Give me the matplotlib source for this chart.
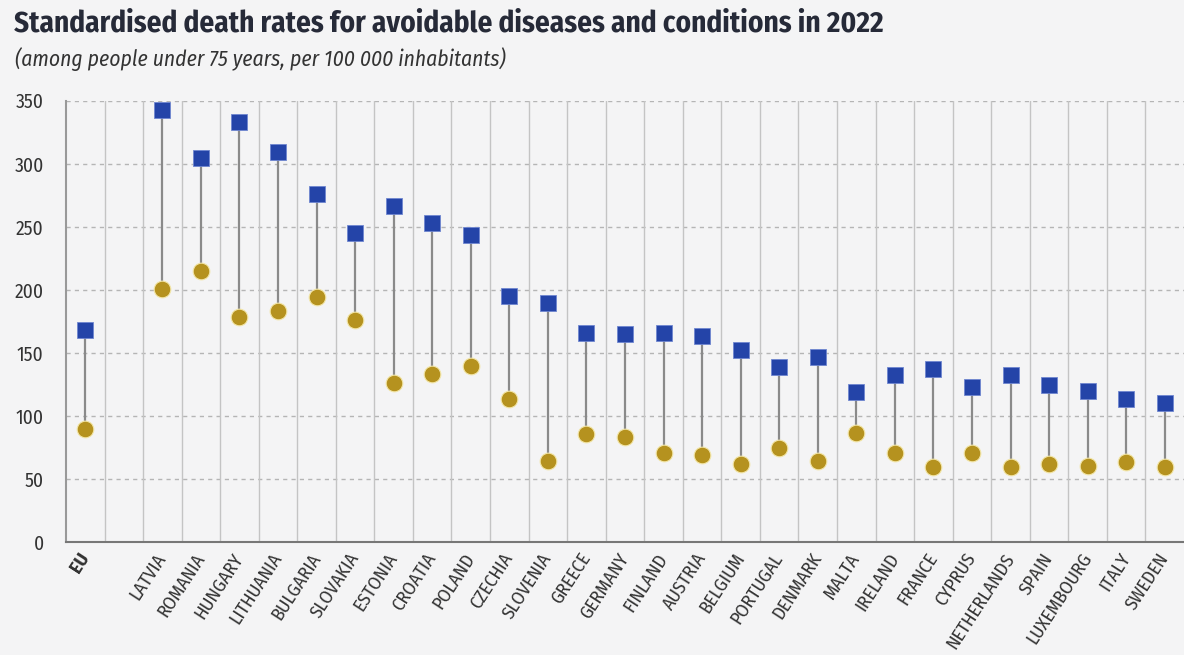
import numpy as np
import matplotlib.pyplot as plt

countries = ["EU", "", "LATVIA", "ROMANIA", "HUNGARY", "LITHUANIA", "BULGARIA",
             "SLOVAKIA", "ESTONIA", "CROATIA", "POLAND", "CZECHIA", "SLOVENIA",
             "GREECE", "GERMANY", "FINLAND", "AUSTRIA", "BELGIUM", "PORTUGAL",
             "DENMARK", "MALTA", "IRELAND", "FRANCE", "CYPRUS", "NETHERLANDS",
             "SPAIN", "LUXEMBOURG", "ITALY", "SWEDEN"]

# upper series (squares) and lower series (circles); None for the empty slot
squares = [168.3, None, 342.6, 304.3, 333.0, 309.0, 276.3, 245.0, 266.8, 253.0,
           243.8, 195.5, 189.4, 166.2, 165.4, 166.2, 163.5, 152.2, 139.0, 147.1,
           119.4, 132.6, 137.6, 123.1, 132.9, 124.4, 119.7, 113.3, 110.2]
circles = [89.8, None, 200.8, 215.0, 178.3, 183.6, 194.2, 176.2, 126.3, 133.7,
           140.0, 113.3, 64.2, 85.6, 83.5, 71.0, 69.2, 62.3, 74.7, 64.2,
           86.4, 70.8, 59.4, 71.0, 59.4, 62.3, 60.5, 63.6, 59.4]

y_ticks = [0, 50, 100, 150, 200, 250, 300, 350]

NARROW = ["Fira Sans Condensed", "DejaVu Sans"]
BG = "#f4f4f5"
BLUE = "#2444a8"
GOLD = "#b5921f"


def main():
    fig = plt.figure(figsize=(11.84, 6.55), dpi=100, facecolor=BG)
    ax = fig.add_axes([0.0557, 0.172, 0.9443, 0.6743], facecolor=BG)

    x = np.arange(len(countries))
    for xi, s, c in zip(x, squares, circles):
        if s is None:
            continue
        ax.plot([xi, xi], [c, s], color="#8a8a8a", lw=1.6, zorder=2)
    idx = [i for i, s in enumerate(squares) if s is not None]
    ax.plot(x[idx], [squares[i] for i in idx], "s", ms=11, color=BLUE,
            mec="#6f86d0", mew=0.6, zorder=3, linestyle="none")
    ax.plot(x[idx], [circles[i] for i in idx], "o", ms=12, color=GOLD,
            mec="#f3e6a8", mew=0.8, zorder=3, linestyle="none")

    ax.set_xlim(-0.5, len(countries) - 0.5)
    ax.set_ylim(0, 350)

    # dashed horizontal grid, solid vertical separators
    for yv in y_ticks[1:]:
        ax.axhline(yv, color="#b5b5b5", lw=1.0, ls=(0, (3, 3)), zorder=1)
    for b in np.arange(0.5, len(countries) - 0.5, 1):
        ax.axvline(b, color="#c4c4c4", lw=1.0, zorder=1)

    ax.set_yticks(y_ticks)
    ax.set_yticklabels([str(v) for v in y_ticks], fontsize=14,
                       family=NARROW, color="#333333")
    ax.set_xticks(x)
    ax.set_xticklabels(countries, rotation=57, ha="right", va="center",
                       rotation_mode="anchor", fontsize=13.5, family=NARROW,
                       color="#333333")
    ax.get_xticklabels()[0].set_fontweight("bold")
    ax.tick_params(axis="both", length=0)
    ax.tick_params(axis="y", pad=16)
    ax.tick_params(axis="x", pad=9)

    for side in ["top", "right"]:
        ax.spines[side].set_visible(False)
    ax.spines["left"].set_color("#999999")
    ax.spines["left"].set_linewidth(1.5)
    ax.spines["bottom"].set_color("#777777")
    ax.spines["bottom"].set_linewidth(1.5)

    fig.text(0.012, 1 - 31 / 655, "Standardised death rates for avoidable diseases "
             "and conditions in 2022", fontsize=21, fontweight="bold",
             family=NARROW, color="#262a38", va="baseline")
    fig.text(0.013, 1 - 66 / 655, "(among people under 75 years, per 100 000 inhabitants)",
             fontsize=15.5, style="italic", family=NARROW, color="#333333",
             va="baseline")

    fig.savefig("out.png", dpi=100, facecolor=BG)


if __name__ == '__main__':
    main()
